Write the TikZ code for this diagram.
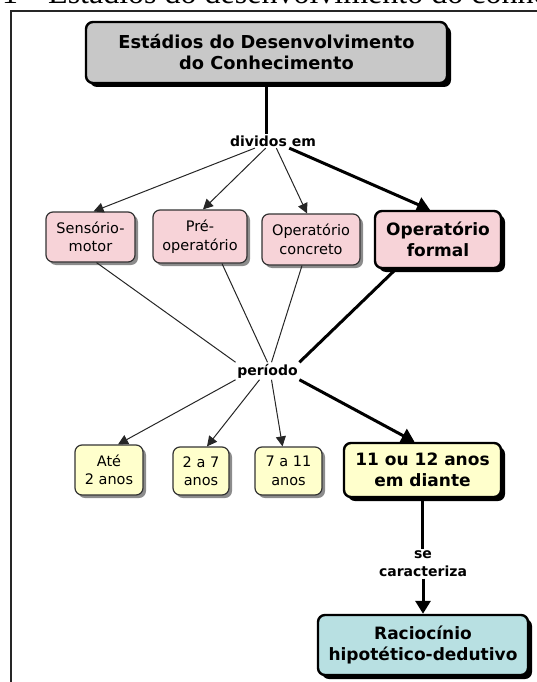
\documentclass[tikz,border=0pt]{standalone}
\usepackage{fontspec}
\setmainfont{DejaVu Sans}
\newfontfamily\capfont{Liberation Serif}
\usetikzlibrary{arrows.meta,shadows,calc}

\definecolor{stagepink}{RGB}{247,211,216}
\definecolor{agecream}{RGB}{255,255,204}
\definecolor{resultcyan}{RGB}{184,224,226}
\definecolor{titlegray}{RGB}{200,200,200}

\tikzset{
  concept/.style={rounded corners=7pt, align=center, inner sep=0pt,
    draw=black!80, line width=1.2pt,
    font=\fontsize{14.5}{18.5}\selectfont,
    drop shadow={shadow xshift=3pt, shadow yshift=-3pt, fill=black!45, opacity=1}},
  keyconcept/.style={concept, draw=black, line width=2.4pt,
    font=\bfseries\fontsize{17}{20.5}\selectfont,
    drop shadow={shadow xshift=4pt, shadow yshift=-4pt, fill=black, opacity=1}},
  linkword/.style={font=\bfseries\fontsize{14}{18}\selectfont, inner sep=1.5pt, align=center},
  thinline/.style={line width=1pt, draw=black!85},
  thinarrow/.style={thinline, -{Triangle[length=10pt,width=10pt]}},
  heavyline/.style={line width=3pt, draw=black},
  heavyarrow/.style={heavyline, -{Triangle[length=13pt,width=15pt]}},
  frameline/.style={line width=1.3pt, draw=black!85}
}

\begin{document}
\begin{tikzpicture}[x=1pt,y=-1pt]
\useasboundingbox (0,0) rectangle (537,682);

% running header of the page, cut by the top edge
\begin{scope}
  \clip (0,0) rectangle (537,682);
  \node[anchor=base west, inner sep=0pt, font=\capfont\fontsize{32}{36}\selectfont] (capnum) at (2,4) {1};
  \node[anchor=base west, inner sep=0pt, font=\capfont\fontsize{32}{36}\selectfont] (captxt) at (48,4) {Estádios do desenvolvimento do conhecimento};
\end{scope}

% figure frame
\draw[frameline] (537,11) -- (11,11) -- (11,682);

% concepts
\node[keyconcept, fill=titlegray, minimum width=361pt, minimum height=61pt,
      font=\bfseries\fontsize{17.8}{21}\selectfont] (title) at (266.5,52.5)
  {Estádios do Desenvolvimento\\do Conhecimento};

\node[linkword] (div) at (273,141) {dividos em};

\node[concept, fill=stagepink, minimum width=89pt, minimum height=50pt] (sens) at (90.5,237) {Sensório-\\motor};
\node[concept, fill=stagepink, minimum width=94pt, minimum height=53pt] (pre) at (200,236.5) {Pré-\\operatório};
\node[concept, fill=stagepink, minimum width=98pt, minimum height=51pt] (conc) at (311,239.5) {Operatório\\concreto};
\node[keyconcept, fill=stagepink, minimum width=126pt, minimum height=57pt] (form) at (438,239.5) {Operatório\\formal};

\node[linkword] (per) at (267.5,371) {período};

\node[concept, fill=agecream, minimum width=68pt, minimum height=50pt] (ate) at (109,470) {Até\\2 anos};
\node[concept, fill=agecream, minimum width=56pt, minimum height=48pt] (two) at (201,471) {2 a 7\\anos};
\node[concept, fill=agecream, minimum width=67pt, minimum height=48pt] (sev) at (288.5,471) {7 a 11\\anos};
\node[keyconcept, fill=agecream, minimum width=157pt, minimum height=54pt] (ele) at (422.5,470) {11 ou 12 anos\\em diante};

\node[linkword] (sc) at (423,564) {se\\caracteriza};

\node[keyconcept, fill=resultcyan, minimum width=210pt, minimum height=60pt] (rac) at (423,645) {Raciocínio\\hipotético-dedutivo};

% links
\draw[heavyline] (title.south) -- (title.south |- div.north);
\draw[thinarrow] (div) -- ($(sens.north)+(3,0)$);
\draw[thinarrow] (div) -- ($(pre.north)+(3,0)$);
\draw[thinarrow] (div) -- ($(conc.north)+(-4,0)$);
\draw[heavyarrow] (div) -- ($(form.north)+(-8,0)$);

\draw[thinline] ($(sens.south)+(6,0)$) -- (per.north west);
\draw[thinline] ($(pre.south)+(22,0)$) -- (per.north);
\draw[thinline] ($(conc.south)+(-9,0)$) -- ($(per.north)+(4,0)$);
\draw[heavyline] ($(form.south west)+(22,0)$) -- (per.north east);

\draw[thinarrow] (per.south west) -- ($(ate.north)+(9,0)$);
\draw[thinarrow] ($(per.south)+(-8,0)$) -- ($(two.north)+(6,0)$);
\draw[thinarrow] ($(per.south)+(4,0)$) -- ($(sev.north)+(-6,0)$);
\draw[heavyarrow] (per.south east) -- ($(ele.north)+(-8,0)$);

\draw[heavyline] (ele.south) -- (ele.south |- sc.north);
\draw[heavyarrow] (sc.south) -- (sc.south |- rac.north);
\end{tikzpicture}
\end{document}
